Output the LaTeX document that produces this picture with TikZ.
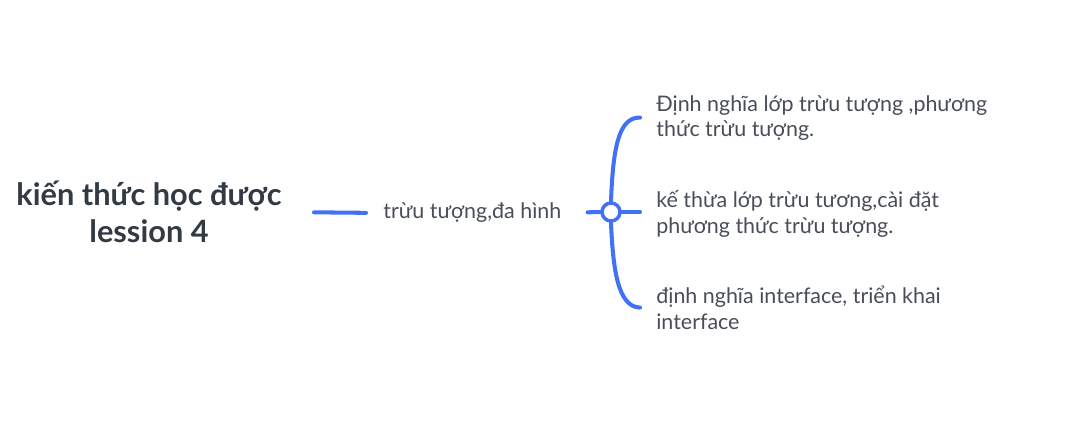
\documentclass[tikz,border=0pt]{standalone}
\usepackage{fontspec}
\setmainfont{Lato}
\definecolor{mapblue}{RGB}{66,112,246}
\definecolor{textgray}{RGB}{72,77,86}
\definecolor{titlegray}{RGB}{50,58,68}

\begin{document}
\begin{tikzpicture}[x=0.02cm, y=-0.02cm,
    branch/.style={draw=mapblue, line width=2.3pt, line cap=round},
    leaf/.style={anchor=west, align=left, inner sep=0pt, text=textgray, font=\fontsize{12.2}{14.7}\selectfont}]
            \useasboundingbox (0,0) rectangle (1080,439);
            \node[align=center, inner sep=0pt, text=titlegray, font=\fontsize{17.5}{21}\selectfont\bfseries] (title) at (149,212) {kiến thức học được\\lession 4};
            \node[leaf] (topic) at (383,213) {trừu tượng,đa hình};
            \node[leaf] (defabs) at (656,118) {Định nghĩa lớp trừu tượng ,phương\\thức trừu tượng.};
            \node[leaf] (inherit) at (656,214) {kế thừa lớp trừu tương,cài đặt\\phương thức trừu tượng.};
            \node[leaf] (iface) at (656,308) {định nghĩa interface, triển khai\\interface};
            \node[circle, draw=mapblue, fill=white, line width=2pt, minimum size=0.36cm, inner sep=0pt] (hub) at (611,212) {};
            \draw[branch, shorten <=0.64cm, shorten >=0.34cm] (title.east) -- (topic.west);
            \draw[branch, shorten <=0.52cm] (topic.east) -- (hub.west);
            \draw[branch, shorten >=0.32cm] (hub.east) -- (inherit.west |- hub.east);
            \draw[branch, shorten >=0.32cm] (hub.north) .. controls (613,150) and (618,117) .. (defabs.west);
            \draw[branch, shorten >=0.32cm] (hub.south) .. controls (613,270) and (618,307) .. (iface.west);
        \end{tikzpicture}
\end{document}
